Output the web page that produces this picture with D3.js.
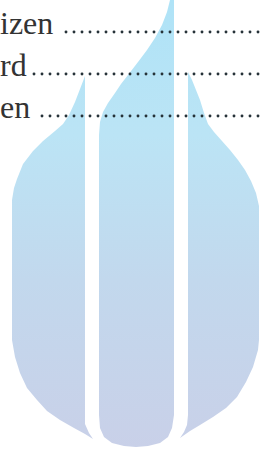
<!DOCTYPE html>
<html>
<head>
<meta charset="utf-8">
<script src="https://cdn.jsdelivr.net/npm/d3@7.9.0/dist/d3.min.js"></script>
<style>
  html, body { margin: 0; padding: 0; background: #fff; overflow: hidden; }
  text { font-family: "Liberation Serif", "DejaVu Serif", serif; }
</style>
</head>
<body>
<svg id="page"></svg>
<script>
// table-of-contents fragments (cut off on the left)
const entries = ["izen", "rd", "en"];

// watermark outline, in page units (0..260 wide, 0..452 high)
const leftBlade = [
  [85, 76], [85, 424], [89, 433], [93, 439], [85, 434], [74, 428], [60, 420],
  [47, 411], [37, 400], [27, 388], [20, 373], [15, 357], [12, 340], [12, 200],
  [14, 188], [17, 179], [23, 164], [33, 151], [43, 141], [55, 131], [63, 124],
  [69, 115], [75, 102], [80, 89], [85, 76]
];
const centerBlade = [
  [171, -4], [174, -4], [174, 415], [172, 428], [168, 437], [160, 443], [148, 446],
  [136, 447], [124, 446], [112, 443], [104, 437], [100, 428], [99, 415], [99, 135],
  [100, 122], [103, 112], [108, 103], [115, 93], [121, 84], [128, 75], [138, 62],
  [147, 50], [155, 38], [162, 25], [167, 12], [171, -4]
];
const rightBlade = [
  [188, 72], [192, 80], [196, 90], [200, 100], [204, 113], [208, 124], [214, 132],
  [222, 141], [230, 150], [238, 160], [245, 170], [251, 181], [256, 193], [259, 206],
  [259, 340], [258, 350], [253, 367], [246, 382], [237, 397], [226, 408], [213, 417],
  [200, 425], [190, 431], [180, 438], [184, 432], [187, 425], [188, 415], [188, 72]
];
const blades = [leftBlade, centerBlade, rightBlade];

const W = 260, H = 452;

const svg = d3.select("#page")
  .attr("width", W)
  .attr("height", H);

const x = d3.scaleLinear().domain([0, 260]).range([0, W]);
const y = d3.scaleLinear().domain([0, 452]).range([0, H]);

// fade from cyan at the top to a pale lavender at the bottom
const defs = svg.append("defs");
const grad = defs.append("linearGradient")
  .attr("id", "fade")
  .attr("gradientUnits", "userSpaceOnUse")
  .attr("x1", 0).attr("y1", y(0))
  .attr("x2", 0).attr("y2", y(452));
[["0%", "#afe3f7"], ["30%", "#bbe4f5"], ["62%", "#c2d8ed"], ["100%", "#c9d0e8"]]
  .forEach(([o, c]) => grad.append("stop").attr("offset", o).attr("stop-color", c));

defs.append("filter")
  .attr("id", "soft")
  .append("feGaussianBlur")
  .attr("stdDeviation", 0.6);

const outline = d3.line()
  .x(d => x(d[0]))
  .y(d => y(d[1]));

svg.append("g")
  .attr("filter", "url(#soft)")
  .selectAll("path")
  .data(blades)
  .join("path")
  .attr("d", d => outline(d) + "Z")
  .attr("fill", "url(#fade)");

// text lines with dot leaders
const row = d3.scaleLinear().domain([0, entries.length - 1]).range([34, 118]);
const dotStep = 8, dotOffset = 2;

const lines = svg.append("g");

entries.forEach((label, i) => {
  const t = lines.append("text")
    .attr("x", 0)
    .attr("y", row(i))
    .style("font-family", "'Liberation Serif', 'DejaVu Serif', serif")
    .attr("font-size", 32)
    .attr("fill", "#333")
    .text(label);

  const end = t.node().getComputedTextLength() + 6;
  const first = Math.ceil((end - dotOffset) / dotStep);
  const last = Math.floor((W - dotOffset) / dotStep);

  lines.selectAll(null)
    .data(d3.range(first, last + 1))
    .join("circle")
    .attr("cx", k => dotOffset + k * dotStep)
    .attr("cy", row(i) - 2)
    .attr("r", 1.45)
    .attr("fill", "#263238");
});
</script>
</body>
</html>
